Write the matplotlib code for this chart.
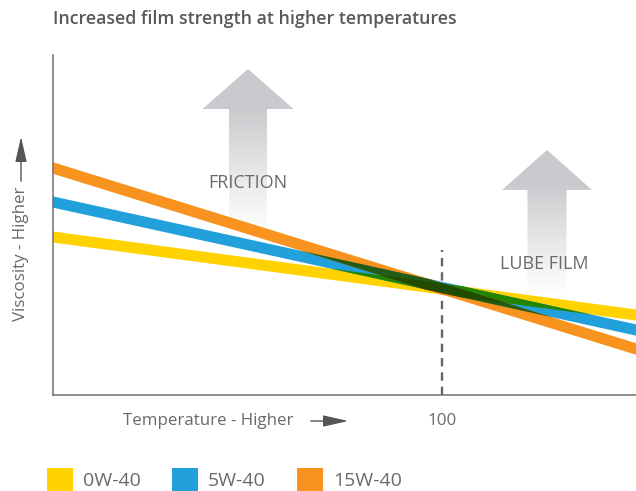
import numpy as np
import matplotlib
matplotlib.use("Agg")
import matplotlib.pyplot as plt
from matplotlib.patches import Polygon, Rectangle, FancyArrowPatch
from matplotlib.transforms import IdentityTransform
from matplotlib.colors import to_rgb

# ---------------- data ----------------
title = "Increased film strength at higher temperatures"
series_names = ["0W-40", "5W-40", "15W-40"]
series_colors = ["#FFD200", "#22A0DC", "#F7931E"]
temperature = [0, 150]
visc_0w40 = [158, 80]
visc_5w40 = [193, 65]
visc_15w40 = [227, 46]
x_ticks = [100]
x_tick_labels = ["100"]
marker_temp = 100
marker_top = 145
x_label = "Temperature - Higher"
y_label = "Viscosity - Higher"
annot_labels = ["FRICTION", "LUBE FILM"]

plt.rcParams['font.family'] = ['Open Sans', 'DejaVu Sans']
plt.rcParams['lines.scale_dashes'] = False

W, H, DPI = 636, 491, 100
fig = plt.figure(figsize=(W / DPI, H / DPI), dpi=DPI)
L, R, T, B = 53, 636, 55, 395
ax = fig.add_axes([L / W, 1 - B / H, (R - L) / W, (B - T) / H])

TXT = "#6a6a6a"

def fx(px):
    return px / W

def fy(py):
    return 1 - py / H

def px2data(px, py):
    return ax.transData.inverted().transform(fig.transFigure.transform((fx(px), fy(py))))

ax.set_xlim(0, 150)
ax.set_ylim(0, 340)

# ---------------- gradient arrows ----------------
def grad_arrow(cx, head_w, shaft_w, top, head_base, bottom):
    pts_px = [(cx, top), (cx + head_w / 2, head_base), (cx + shaft_w / 2, head_base),
              (cx + shaft_w / 2, bottom), (cx - shaft_w / 2, bottom),
              (cx - shaft_w / 2, head_base), (cx - head_w / 2, head_base)]
    pts = np.array([px2data(*p) for p in pts_px])
    poly = Polygon(pts, closed=True, facecolor='none', edgecolor='none', transform=ax.transData)
    ax.add_patch(poly)
    n = 256
    t = np.linspace(0, 1, n)[:, None]
    gray = np.array([0.79, 0.795, 0.805])
    frac = np.clip((t - 0.25) / 0.75, 0, 1) ** 0.9
    cols = gray + (1 - gray) * frac
    img = np.repeat(cols[:, None, :], 2, axis=1)
    x0, y0 = px2data(cx - head_w / 2, bottom)
    x1, y1 = px2data(cx + head_w / 2, top)
    im = ax.imshow(img, extent=[x0, x1, y0, y1], origin='upper', aspect='auto',
                   zorder=0.5, interpolation='bilinear')
    im.set_clip_path(poly)

grad_arrow(248, 91, 38, 69, 109, 235)
grad_arrow(547, 90, 39, 150, 190, 295)
ax.set_xlim(0, 150)
ax.set_ylim(0, 340)

ax.text(*px2data(248, 183), annot_labels[0], ha='center', va='center',
        fontsize=13, color=TXT, zorder=1)
ax.text(*px2data(544, 264), annot_labels[1], ha='center', va='center',
        fontsize=13, color=TXT, zorder=1)

# ---------------- dashed marker ----------------
ax.plot([marker_temp, marker_temp], [0, marker_top], color="#666666", lw=1.7,
        dashes=(6, 4.3), zorder=1.5, solid_capstyle='butt', dash_capstyle='butt')

# ---------------- lines with multiply blending ----------------
LW_PX = 11
series = [visc_0w40, visc_5w40, visc_15w40]
for vals, col in zip(series, series_colors):
    ax.plot(temperature, vals, color=col, lw=LW_PX * 72 / DPI,
            solid_capstyle='projecting', zorder=2)

def stroke_poly(xs, ys):
    p = ax.transData.transform(np.column_stack([xs, ys]))
    p0, p1 = p[0], p[-1]
    d = (p1 - p0) / np.hypot(*(p1 - p0))
    h = LW_PX / 2
    p0 = p0 - d * h
    p1 = p1 + d * h
    nrm = np.array([-d[1], d[0]]) * h
    poly = np.array([p0 - nrm, p1 - nrm, p1 + nrm, p0 + nrm])
    area = 0.5 * np.sum(poly[:, 0] * np.roll(poly[:, 1], -1) - np.roll(poly[:, 0], -1) * poly[:, 1])
    if area < 0:
        poly = poly[::-1]
    return [tuple(q) for q in poly]

def clip_poly(subject, clip):
    def inside(p, a, b):
        return (b[0] - a[0]) * (p[1] - a[1]) - (b[1] - a[1]) * (p[0] - a[0]) >= 0
    def inter(p, q, a, b):
        x1, y1 = p; x2, y2 = q; x3, y3 = a; x4, y4 = b
        den = (x1 - x2) * (y3 - y4) - (y1 - y2) * (x3 - x4)
        tt = ((x1 - x3) * (y3 - y4) - (y1 - y3) * (x3 - x4)) / den
        return (x1 + tt * (x2 - x1), y1 + tt * (y2 - y1))
    out = list(subject)
    for i in range(len(clip)):
        a, b = clip[i], clip[(i + 1) % len(clip)]
        inp = out
        out = []
        if not inp:
            break
        s = inp[-1]
        for e in inp:
            if inside(e, a, b):
                if not inside(s, a, b):
                    out.append(inter(s, e, a, b))
                out.append(e)
            elif inside(s, a, b):
                out.append(inter(s, e, a, b))
            s = e
    return out

polys = [stroke_poly(temperature, v) for v in series]
rgbs = [np.array(to_rgb(c)) for c in series_colors]

def add_region(poly, rgb, z):
    if len(poly) >= 3:
        ax.add_patch(Polygon(poly, closed=True, facecolor=rgb, edgecolor='none',
                             transform=IdentityTransform(), zorder=z))

for i, j in [(0, 1), (0, 2), (1, 2)]:
    add_region(clip_poly(polys[i], polys[j]), rgbs[i] * rgbs[j], 2.1)
triple = clip_poly(clip_poly(polys[0], polys[1]), polys[2])
add_region(triple, rgbs[0] * rgbs[1] * rgbs[2], 2.2)

# ---------------- axes styling ----------------
for s in ['top', 'right']:
    ax.spines[s].set_visible(False)
for s in ['left', 'bottom']:
    ax.spines[s].set_color("#6f6f6f")
    ax.spines[s].set_linewidth(1.1)
    ax.spines[s].set_zorder(3)
ax.set_yticks([])
ax.set_xticks(x_ticks, x_tick_labels)
ax.tick_params(axis='x', length=0, pad=13, labelsize=12.2, labelcolor=TXT)

# title
fig.text(fx(53), fy(19), title, fontsize=12.8, fontweight='semibold',
         color="#58595b", ha='left', va='center')

# x label with arrow
fig.text(fx(123), fy(421), x_label, fontsize=12.2, color=TXT, ha='left', va='center')
fig.add_artist(FancyArrowPatch(
    (fx(308), fy(421)), (fx(351), fy(421)), transform=fig.transFigure,
    arrowstyle='-|>,head_length=1.1,head_width=0.25', mutation_scale=14,
    color="#555555", lw=1.0))

# y label with arrow
fig.text(fx(21), fy(254), y_label, fontsize=12.2, color=TXT, ha='center', va='center',
         rotation=90)
fig.add_artist(FancyArrowPatch(
    (fx(21), fy(184)), (fx(21), fy(134)), transform=fig.transFigure,
    arrowstyle='-|>,head_length=1.1,head_width=0.25', mutation_scale=14,
    color="#555555", lw=1.0))

# legend (sits at the bottom edge, partly cut off as in the reference)
leg_x = [47, 172, 297]
for name, col, lx in zip(series_names, series_colors, leg_x):
    fig.add_artist(Rectangle((fx(lx), fy(494)), 26 / W, 26 / H,
                             transform=fig.transFigure, facecolor=col, edgecolor='none'))
    fig.text(fx(lx + 36), fy(481), name, fontsize=14, color=TXT, ha='left', va='center')

fig.savefig("out.png", dpi=DPI, facecolor='white')
